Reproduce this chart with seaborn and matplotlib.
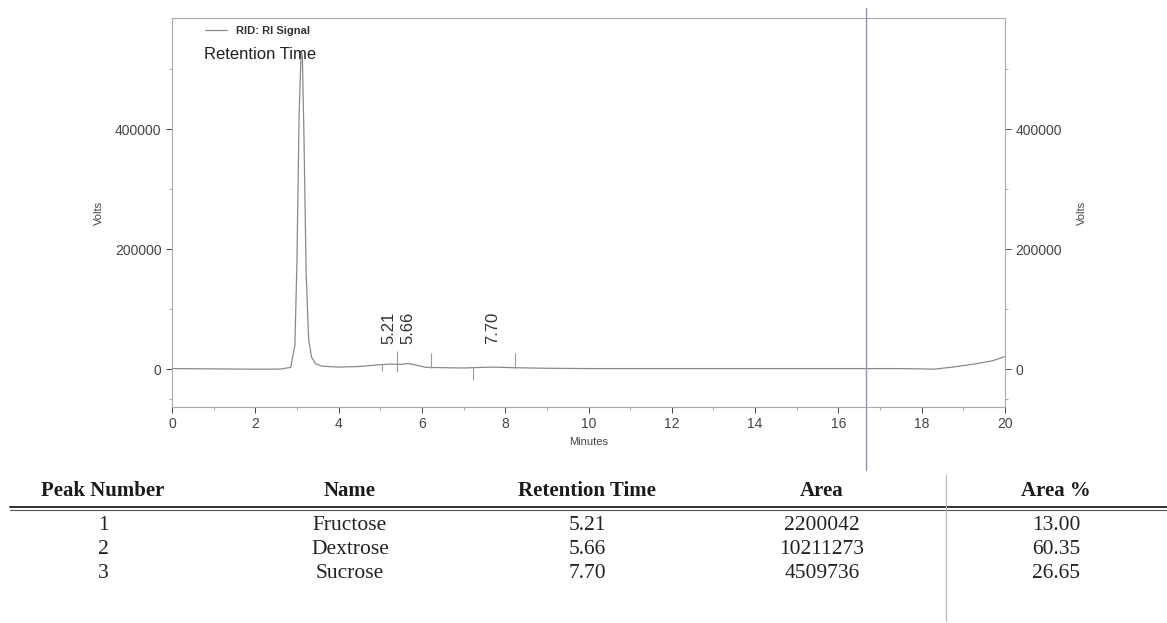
import matplotlib
matplotlib.use("Agg")
import matplotlib.pyplot as plt
from matplotlib.lines import Line2D
import seaborn as sns
import pandas as pd

# chromatogram trace (minutes, volts)
minutes = [0.0, 1.0, 2.0, 2.6, 2.85, 2.95, 3.0, 3.05, 3.1, 3.13, 3.17, 3.22, 3.28,
           3.35, 3.45, 3.6, 4.0, 4.5, 5.0, 5.21, 5.5, 5.66, 5.85, 6.1, 6.5, 7.0,
           7.7, 8.2, 9.0, 10.0, 12.0, 14.0, 16.0, 17.5, 18.0, 18.3, 18.8, 19.3,
           19.7, 20.0]
volts = [1000, 500, 0, 200, 3000, 40000, 180000, 420000, 530000, 520000, 380000,
         160000, 50000, 20000, 9000, 5000, 3500, 4500, 7500, 8500, 8000, 9500,
         7000, 3000, 2500, 2000, 3500, 2500, 1500, 1000, 1000, 1000, 1000, 1000,
         500, 0, 4000, 9000, 14000, 21000]

# integration event marks
event_t = [5.04, 5.40, 6.22, 7.23, 8.24]
event_lo = [-3000, -5000, 2000, -18000, 2000]
event_hi = [9000, 30000, 27000, 2000, 27000]

peak_labels = ["5.21", "5.66", "7.70"]
peak_times = [5.21, 5.66, 7.70]

# results table
headers = ["Peak Number", "Name", "Retention Time", "Area", "Area %"]
peak_no = ["1", "2", "3"]
names = ["Fructose", "Dextrose", "Sucrose"]
ret_times = ["5.21", "5.66", "7.70"]
areas = ["2200042", "10211273", "4509736"]
area_pct = ["13.00", "60.35", "26.65"]

sns.set_style("ticks")
plt.rcParams['font.family'] = ['Liberation Sans', 'DejaVu Sans']

fig = plt.figure(figsize=(11.67, 6.23), dpi=100)
ax = fig.add_axes([0.1474, 0.3467, 0.7138, 0.6244])

df = pd.DataFrame({"Minutes": minutes, "Volts": volts})
sns.lineplot(data=df, x="Minutes", y="Volts", ax=ax, color="#8a8a8a", lw=0.9,
             label="RID: RI Signal")

ax.vlines(event_t, event_lo, event_hi, color="#999999", lw=0.8)
for t, lab in zip(peak_times, peak_labels):
    ax.text(t, 42000, lab, rotation=90, ha="center", va="bottom",
            fontsize=12, color="#333333")

ax.set_xlim(0, 20)
ax.set_ylim(-63000, 585000)
ax.set_xticks(range(0, 21, 2))
ax.set_xticks(range(0, 21, 1), minor=True)
ax.set_yticks([0, 200000, 400000])
ax.set_yticks([-50000, 100000, 300000, 500000], minor=True)
ax.tick_params(axis="both", labelsize=10, colors="#444444", length=4, width=0.7)
ax.tick_params(which="minor", length=2.5, width=0.6, colors="#999999")
ax.tick_params(axis="y", right=True, labelright=True, which="both")
ax.set_xlabel("Minutes", fontsize=8, color="#444444")
ax.set_ylabel("Volts", fontsize=8, color="#444444", labelpad=8)
ax2 = ax.secondary_yaxis("right")
ax2.set_yticks([])
ax2.spines["right"].set_visible(False)
ax2.set_ylabel("Volts", fontsize=8, color="#444444", labelpad=52)
for s in ax.spines.values():
    s.set_color("#aaaaaa")
    s.set_linewidth(0.8)

leg = ax.legend(loc="upper left", bbox_to_anchor=(0.03, 1.0), frameon=False,
                fontsize=8, handlelength=2.0, borderaxespad=0.3)
for t in leg.get_texts():
    t.set_fontweight("bold")
    t.set_color("#333333")
ax.text(0.038, 0.905, "Retention Time", transform=ax.transAxes, fontsize=12,
        color="#222222", va="center")

# scanner line through the page
fig.add_artist(Line2D([866 / 1167, 866 / 1167], [1 - 8 / 623, 1 - 470 / 623],
                      color="#8f97a8", lw=1.0))

# table
serif = ['Liberation Serif', 'DejaVu Serif']
col_x = [103, 350, 587, 822, 1056]
for x, h in zip(col_x, headers):
    fig.text(x / 1167, 1 - 491 / 623, h, ha="center", va="center", fontsize=15,
             fontweight="bold", family=serif, color="#1a1a1a")
fig.add_artist(Line2D([10 / 1167, 1.0], [1 - 507 / 623] * 2, color="#333333", lw=1.4))
fig.add_artist(Line2D([10 / 1167, 1.0], [1 - 510 / 623] * 2, color="#555555", lw=0.8))
fig.add_artist(Line2D([946 / 1167] * 2, [1 - 475 / 623, 1 - 621 / 623],
                      color="#bbbbbb", lw=0.9))
row_y = [525, 549, 573]
for i, y in enumerate(row_y):
    vals = [peak_no[i], names[i], ret_times[i], areas[i], area_pct[i]]
    for x, v in zip(col_x, vals):
        fig.text(x / 1167, 1 - y / 623, v, ha="center", va="center", fontsize=15.5,
                 family=serif, color="#222222")

fig.savefig("out.png", dpi=100)
